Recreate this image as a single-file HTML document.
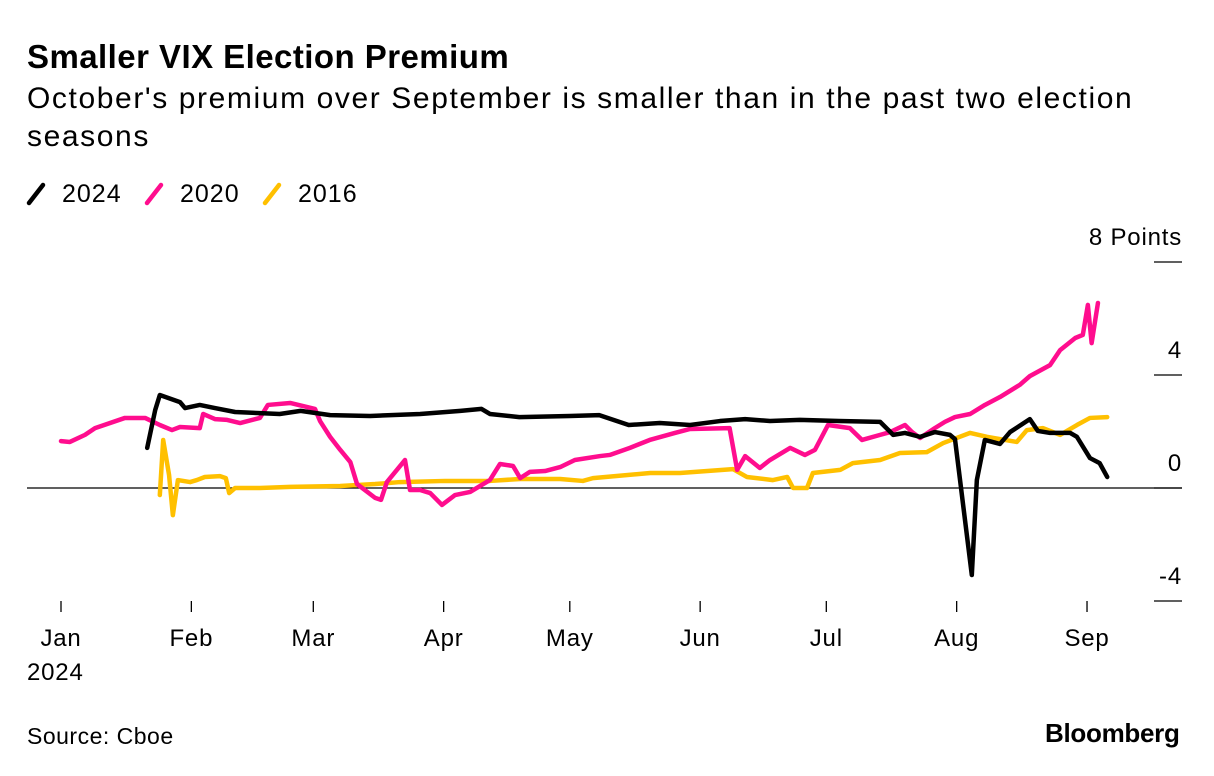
<!DOCTYPE html>
<html><head><meta charset="utf-8"><style>
body{margin:0;background:#fff;font-family:"Liberation Sans",sans-serif;}
.t{position:absolute;color:#000;white-space:nowrap}
</style></head><body>
<div style="position:relative;width:1214px;height:776px;overflow:hidden">
<div class="t" style="left:27px;top:38px;font-size:33px;font-weight:bold;letter-spacing:0.45px">Smaller VIX Election Premium</div>
<div class="t" style="left:27px;top:80px;font-size:30px;letter-spacing:1.6px;line-height:38px;white-space:normal;width:1165px">October's premium over September is smaller than in the past two election seasons</div>
<div class="t" style="left:27px;top:723px;font-size:23px;letter-spacing:0.5px">Source: Cboe</div>
<div class="t" style="left:1045px;top:718px;font-size:26px;font-weight:bold;letter-spacing:-0.3px">Bloomberg</div>
<svg id="c" width="1214" height="776" style="position:absolute;left:0;top:0"></svg>
</div>
<script>
const yTicks=[8,4,0,-4];
const monthLabels=["Jan","Feb","Mar","Apr","May","Jun","Jul","Aug","Sep"];
const monthDays=[0,31,60,91,121,152,182,213,244];
const legendNames=["2024","2020","2016"];
const legendColors=["#000","#ff0d8e","#ffc000"];
const d2024=[20.5,22.4,23.5,28.3,29.5,33,36.6,41.4,47.3,52,57,64,73.5,85.4,95,100,102,109,121,128,135,142.4,149.6,156.7,162.7,168.6,175.7,185,194.8,197.9,200.7,204.3,207.8,211.4,212.6,216.6,217.8,219.7,223.3,225.7,230.4,232.3,235.2,240,241.6,244.7,247,248.8];
const v2024=[1.42,2.76,3.29,3.04,2.83,2.94,2.83,2.69,2.65,2.62,2.73,2.58,2.55,2.62,2.73,2.8,2.62,2.51,2.55,2.58,2.23,2.3,2.23,2.37,2.44,2.37,2.41,2.37,2.34,1.88,1.95,1.81,1.98,1.88,1.73,-3.08,0.28,1.7,1.56,1.98,2.44,2.02,1.95,1.95,1.81,1.06,0.88,0.39];
const d2020=[0,2.1,5.7,8.1,15.2,20,23.5,26.4,28.3,33,33.8,36.6,39.5,42.6,47.3,49.2,54.5,60.4,61.6,64,66.4,68.8,70.4,74.7,76.1,77.5,81.8,83,85.4,87.8,90.6,93.7,97.3,102,104.4,107.5,109.2,111.5,115.1,118.7,122.2,128.2,130.5,135.3,140,146,149.6,159,160.8,162.7,166.2,168.6,173.4,176.9,179.3,182.4,187.6,190.5,194.8,197.2,200.7,202.4,204.3,207.8,210.2,212.6,216.2,219.7,223.3,228,230.4,235.2,237.6,241.2,243,244.2,245.1,246.6];
const v2020=[1.66,1.63,1.88,2.12,2.48,2.48,2.23,2.05,2.16,2.12,2.62,2.44,2.41,2.3,2.48,2.94,3.01,2.8,2.37,1.81,1.35,0.92,0.14,-0.35,-0.42,0.21,0.99,-0.07,-0.07,-0.18,-0.6,-0.25,-0.14,0.28,0.85,0.78,0.35,0.57,0.6,0.74,0.99,1.13,1.17,1.42,1.7,1.95,2.09,2.12,0.64,1.13,0.71,0.99,1.42,1.17,1.35,2.23,2.12,1.7,1.88,1.98,2.23,1.98,1.77,2.12,2.34,2.51,2.62,2.94,3.22,3.65,3.96,4.35,4.88,5.31,5.42,6.48,5.13,6.55];
const d2016=[23.5,24.3,25.7,26.6,27.8,30.7,32.3,34.2,37.8,39.2,40,41.4,47.3,54.5,66.4,74.7,80.6,91.3,102,109.2,118.7,124.1,126.5,140.1,147.2,159.8,163.1,169.3,172.7,174.1,177.4,178.8,185.3,188.3,194.8,199.5,205.9,209.8,216.2,220.2,227.3,229.7,233.5,237.6,241.6,244.7,248.8];
const v2016=[-0.25,1.7,0.46,-0.96,0.28,0.21,0.28,0.39,0.42,0.35,-0.18,0,0,0.04,0.07,0.14,0.21,0.25,0.25,0.32,0.32,0.25,0.35,0.53,0.53,0.67,0.39,0.28,0.39,0,0,0.53,0.64,0.88,0.99,1.24,1.27,1.59,1.95,1.81,1.63,2.05,2.12,1.88,2.23,2.48,2.51];
const svg=document.getElementById('c');
const NS='http://www.w3.org/2000/svg';
const X=d=>61+d*4.205;
const Y=v=>488-v*28.25;
const FF='Liberation Sans, sans-serif';
function mk(tag,attrs,parent){const e=document.createElementNS(NS,tag);for(const k in attrs)e.setAttribute(k,attrs[k]);(parent||svg).appendChild(e);return e;}
yTicks.forEach(v=>{
  const l=mk('line',{x1:1154,x2:1182,y1:Y(v),y2:Y(v),stroke:'#000','stroke-width':1.3});
  
  
  const t=mk('text',{x:1182,y:Y(v)-17,'text-anchor':'end','font-size':24,'letter-spacing':0.8,'font-family':FF});
  t.textContent=v===8?'8 Points':String(v);
  
  
});
const z=mk('line',{x1:27,x2:1182,y1:Y(0),y2:Y(0),stroke:'#000','stroke-width':1.3});


monthDays.forEach((d,i)=>{
  const l=mk('line',{x1:X(d),x2:X(d),y1:601,y2:612,stroke:'#000','stroke-width':1.3});
  
  
  const t=mk('text',{x:X(d),y:646,'text-anchor':'middle','font-size':24,'letter-spacing':0.8,'font-family':FF});
  t.textContent=monthLabels[i];
  
  
});
const yr=mk('text',{x:27,y:680,'font-size':24,'letter-spacing':0.8,'font-family':FF});
yr.textContent='2024';


function series(ds,vs,color,name){
  const p=mk('polyline',{points:ds.map((d,i)=>X(d)+','+Y(vs[i])).join(' '),fill:'none',stroke:color,'stroke-width':4.5,'stroke-linejoin':'round','stroke-linecap':'round'});
  
  
}
series(d2016,v2016,legendColors[2],'line-2016');
series(d2020,v2020,legendColors[1],'line-2020');
series(d2024,v2024,legendColors[0],'line-2024');
const lx=[29,147,265];
legendNames.forEach((n,i)=>{
  const g=mk('g',{});
  
  
  mk('line',{x1:lx[i],y1:203,x2:lx[i]+14,y2:185,stroke:legendColors[i],'stroke-width':4.5,'stroke-linecap':'round'},g);
  const t=mk('text',{x:lx[i]+33,y:202,'font-size':25,'letter-spacing':1,'font-family':FF},g);
  t.textContent=n;
});
</script>
</body></html>
